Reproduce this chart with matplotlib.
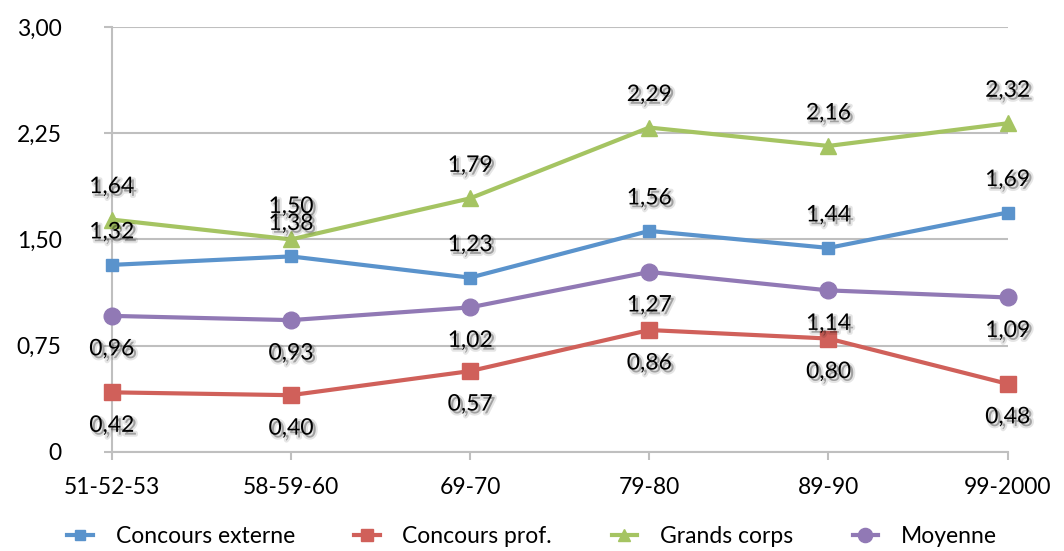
import numpy as np
import matplotlib
matplotlib.use("Agg")
import matplotlib.pyplot as plt
import matplotlib.patheffects as pe

categories = ["51-52-53", "58-59-60", "69-70", "79-80", "89-90", "99-2000"]
externe = [1.32, 1.38, 1.23, 1.56, 1.44, 1.69]
prof = [0.42, 0.40, 0.57, 0.86, 0.80, 0.48]
grands = [1.64, 1.50, 1.79, 2.29, 2.16, 2.32]
moyenne = [0.96, 0.93, 1.02, 1.27, 1.14, 1.09]
yticks = [0, 0.75, 1.50, 2.25, 3.00]
ytick_labels = ["0", "0,75", "1,50", "2,25", "3,00"]

plt.rcParams['font.family'] = ['Lato', 'DejaVu Sans']

fig = plt.figure(figsize=(10.64, 5.51), dpi=100)
ax = fig.add_axes([0.105, 0.18, 0.842, 0.771])

x = np.arange(len(categories))
series = [
    ("Concours externe", externe, "#5A93CC", "s", 9, 1),
    ("Concours prof.", prof, "#D0605A", "s", 11, -1),
    ("Grands corps", grands, "#A5C462", "^", 11, 1),
    ("Moyenne", moyenne, "#9179B5", "o", 12, -1),
]

# soft shadow behind the data labels
shadow = [pe.Stroke(offset=(2, -2), linewidth=3, foreground="black", alpha=0.1),
          pe.SimplePatchShadow(offset=(2, -2), shadow_rgbFace="black", alpha=0.22),
          pe.Normal()]

for name, vals, col, mk, ms, side in series:
    ax.plot(x, vals, color=col, lw=3, marker=mk, markersize=ms, label=name,
            markeredgecolor=col, zorder=3, clip_on=False)
    for xi, v in zip(x, vals):
        ax.annotate(("%.2f" % v).replace(".", ","), (xi, v),
                    xytext=(0, 33 * side), textcoords="offset pixels",
                    ha="center", va="center", fontsize=16.5, color="black",
                    path_effects=shadow, zorder=4)

ax.set_xlim(0, 5)
ax.set_ylim(0, 3)
ax.set_yticks(yticks)
ax.set_yticklabels(ytick_labels)
ax.set_xticks(x)
ax.set_xticklabels(categories)
ax.yaxis.grid(True, color="#BFBFBF", lw=1.5)
ax.set_axisbelow(True)
for s in ["top", "right"]:
    ax.spines[s].set_visible(False)
for s in ["left", "bottom"]:
    ax.spines[s].set_color("#BFBFBF")
    ax.spines[s].set_linewidth(1.5)
ax.tick_params(axis="both", colors="#BFBFBF", labelcolor="black", labelsize=16.5,
               length=6, width=1.5)
ax.tick_params(axis="x", pad=12)
ax.tick_params(axis="y", pad=30)

fig.legend(loc="center", bbox_to_anchor=(0.5, 0.026), ncol=4, frameon=False,
           fontsize=16.5, handlelength=1.1, handletextpad=1.0,
           columnspacing=2.6, markerscale=0.85)

fig.savefig("out.png", dpi=100)
